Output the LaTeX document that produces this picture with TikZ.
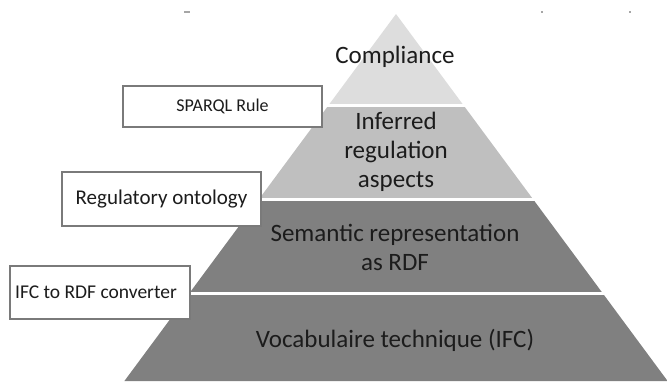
\documentclass[tikz,border=0pt]{standalone}
\usepackage{fontspec}
\setmainfont{Carlito}
\definecolor{lvlA}{HTML}{DDDDDD}
\definecolor{lvlB}{HTML}{BFBFBF}
\definecolor{lvlC}{HTML}{808080}
\definecolor{txt}{HTML}{1C1C1C}
\definecolor{boxline}{HTML}{7A7A7A}
\tikzset{
  layertext/.style={text=txt, align=center, inner sep=0pt, font=\fontsize{25}{29}\selectfont},
  toolbox/.style={draw=boxline, line width=1.6pt, fill=white, text=txt, inner sep=0pt, align=center},
  sep/.style={draw=white, line width=3pt},
  speck/.style={fill=black!35, draw=none}
}
\begin{document}
\begin{tikzpicture}[x=1pt,y=-1pt]
\useasboundingbox (0,0) rectangle (667,381);
\clip (0,0) rectangle (667,381);
% pyramid layers
\fill[lvlA] (396,14) -- (463.3,105) -- (328.7,105) -- cycle;
\fill[lvlB] (328.7,105) -- (463.3,105) -- (532.9,199) -- (259.1,199) -- cycle;
\fill[lvlC] (259.1,199) -- (532.9,199) -- (602.5,293) -- (189.5,293) -- cycle;
\fill[lvlC] (189.5,293) -- (602.5,293) -- (667.6,381) -- (124.4,381) -- cycle;
\coordinate (s1l) at (326,105); \coordinate (s1r) at (466,105);
\coordinate (s2l) at (256,199); \coordinate (s2r) at (536,199);
\coordinate (s3l) at (186,293); \coordinate (s3r) at (606,293);
\draw[sep] (s1l) -- (s1r);
\draw[sep] (s2l) -- (s2r);
\draw[sep] (s3l) -- (s3r);
% specks at top
\fill[speck] (184,11) rectangle (190,13);
\fill[speck] (541,11) rectangle (543,13);
\fill[speck] (629,11) rectangle (631,13);
% layer labels
\node[layertext] (compl) at (395,57) {Compliance};
\node[layertext] (infer) at (396,152) {Inferred\\regulation\\aspects};
\node[layertext] (sem) at (395,247) {Semantic representation\\as RDF};
\node[layertext] (voc) at (395,340) {Vocabulaire technique (IFC)};
% tool boxes
\node[toolbox, minimum width=199pt, minimum height=41pt, font=\fontsize{18}{21}\selectfont] (sparql) at (222.5,106.5) {SPARQL Rule};
\node[toolbox, minimum width=199pt, minimum height=54pt, font=\fontsize{21}{25}\selectfont] (onto) at (161.5,199) {Regulatory ontology};
\node[toolbox, minimum width=180pt, minimum height=53pt, font=\fontsize{19.5}{23}\selectfont] (conv) at (100,292.5) {IFC to RDF converter\hspace{8pt}};
\end{tikzpicture}
\end{document}
